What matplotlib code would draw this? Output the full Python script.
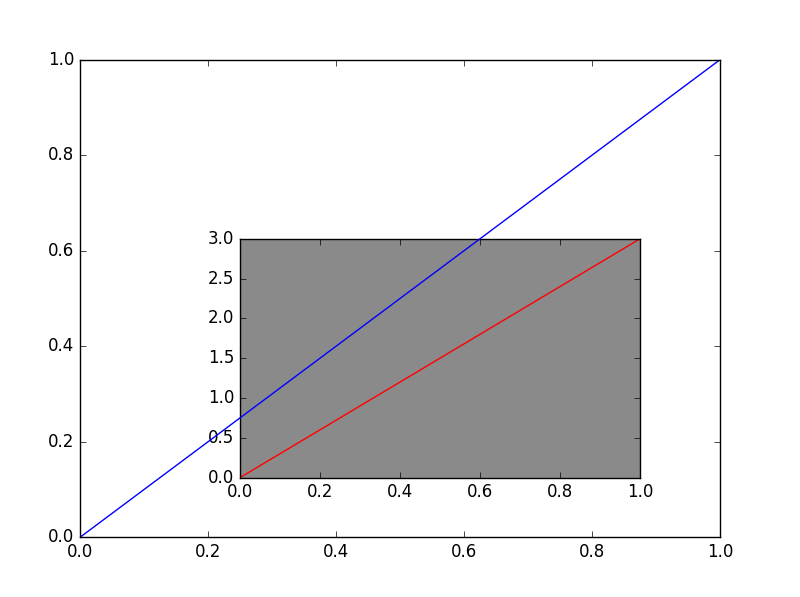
import numpy as np
import matplotlib.pyplot as plt

plt.style.use('classic')

# data
x_main = [0.0, 1.0]
y_main = [0.0, 1.0]
x_inset = [0.0, 1.0]
y_inset = [0.0, 3.0]

fig = plt.figure(figsize=(8, 5.97), dpi=100, facecolor='white')

ax = fig.add_axes([0.1, 0.1, 0.8, 0.8])
ax.plot(x_main, y_main, color='b')
ax.set_xlim(0, 1)
ax.set_ylim(0, 1)

ins = fig.add_axes([0.3, 0.2, 0.5, 0.4], facecolor='#8a8a8a')
ins.plot(x_inset, y_inset, color='r')
ins.set_xlim(0, 1)
ins.set_ylim(0, 3)

# main line drawn on top of the inset
ax.set_zorder(2)
ax.patch.set_visible(False)

fig.savefig('out.png', dpi=100, facecolor='white')
